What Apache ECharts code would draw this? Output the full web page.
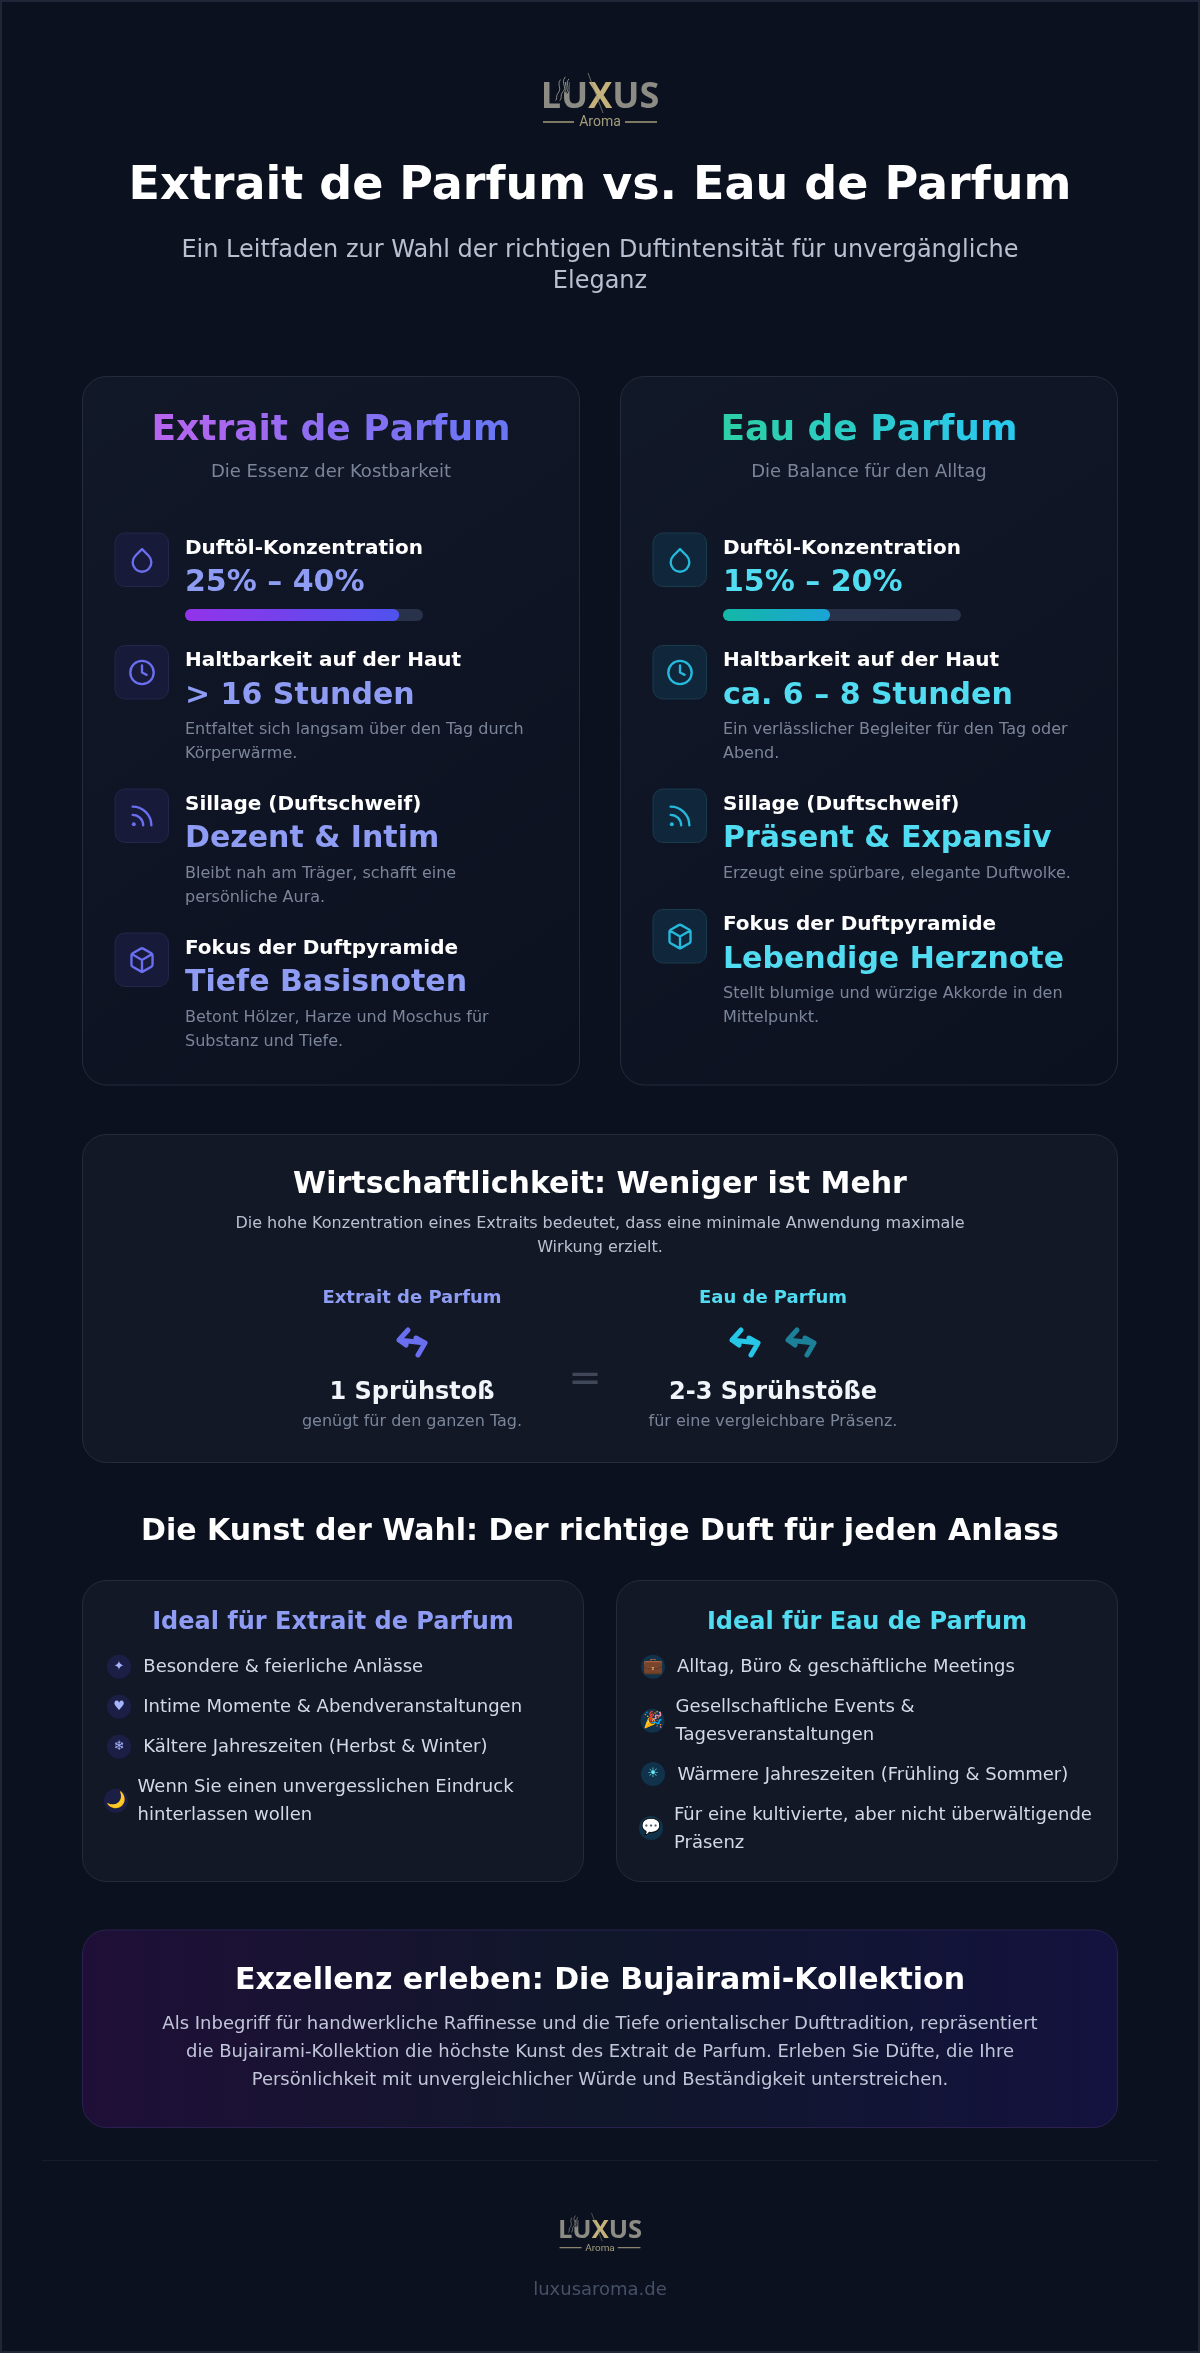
<!DOCTYPE html>
<html>
<head>
<meta charset="utf-8">
<title>Extrait de Parfum vs. Eau de Parfum</title>
<script src="https://cdn.jsdelivr.net/npm/echarts@6/dist/echarts.min.js"></script>
<style>
  html, body { margin: 0; padding: 0; background: #0b111e; }
  #main { width: 1200px; height: 2353px; }
</style>
</head>
<body>
<div id="main"></div>
<script>
// bar values (percent of the track that is filled)
const concentrationCategory = ["Duftöl-Konzentration"];
const extraitFill = [90];
const eauFill = [45];

const pageTitle = "Extrait de Parfum vs. Eau de Parfum";
const pageSubtitle = ["Ein Leitfaden zur Wahl der richtigen Duftintensität für unvergängliche", "Eleganz"];

const extraitRows = [
  ["Duftöl-Konzentration", "25% – 40%", []],
  ["Haltbarkeit auf der Haut", "> 16 Stunden", ["Entfaltet sich langsam über den Tag durch", "Körperwärme."]],
  ["Sillage (Duftschweif)", "Dezent & Intim", ["Bleibt nah am Träger, schafft eine", "persönliche Aura."]],
  ["Fokus der Duftpyramide", "Tiefe Basisnoten", ["Betont Hölzer, Harze und Moschus für", "Substanz und Tiefe."]]
];
const eauRows = [
  ["Duftöl-Konzentration", "15% – 20%", []],
  ["Haltbarkeit auf der Haut", "ca. 6 – 8 Stunden", ["Ein verlässlicher Begleiter für den Tag oder", "Abend."]],
  ["Sillage (Duftschweif)", "Präsent & Expansiv", ["Erzeugt eine spürbare, elegante Duftwolke."]],
  ["Fokus der Duftpyramide", "Lebendige Herznote", ["Stellt blumige und würzige Akkorde in den", "Mittelpunkt."]]
];
const rowTopsExtrait = [533, 645.5, 789, 933];
const rowTopsEau = [533, 645.5, 789, 909.5];

const extraitIdeal = [
  ["✦", ["Besondere & feierliche Anlässe"]],
  ["♥", ["Intime Momente & Abendveranstaltungen"]],
  ["❄", ["Kältere Jahreszeiten (Herbst & Winter)"]],
  ["🌙", ["Wenn Sie einen unvergesslichen Eindruck", "hinterlassen wollen"]]
];
const eauIdeal = [
  ["💼", ["Alltag, Büro & geschäftliche Meetings"]],
  ["🎉", ["Gesellschaftliche Events &", "Tagesveranstaltungen"]],
  ["☀", ["Wärmere Jahreszeiten (Frühling & Sommer)"]],
  ["💬", ["Für eine kultivierte, aber nicht überwältigende", "Präsenz"]]
];
const ctaLines = [
  "Als Inbegriff für handwerkliche Raffinesse und die Tiefe orientalischer Dufttradition, repräsentiert",
  "die Bujairami-Kollektion die höchste Kunst des Extrait de Parfum. Erleben Sie Düfte, die Ihre",
  "Persönlichkeit mit unvergleichlicher Würde und Beständigkeit unterstreichen."
];

const FONT = '"DejaVu Sans"';
const LinearGradient = echarts.graphic.LinearGradient;
const hGrad = (a, b) => new LinearGradient(0, 0, 1, 0, [{ offset: 0, color: a }, { offset: 1, color: b }]);

// line icons
const iconPaths = {
  icoDrop: "M12 2.69l5.66 5.66a8 8 0 1 1-11.31 0z",
  icoClock: "M22 12a10 10 0 1 1-20 0a10 10 0 1 1 20 0zM12 6v6l4 2",
  icoRss: "M4 11a9 9 0 0 1 9 9M4 4a16 16 0 0 1 16 16",
  icoBox: "M21 16V8a2 2 0 0 0-1-1.73l-7-4a2 2 0 0 0-2 0l-7 4A2 2 0 0 0 3 8v8a2 2 0 0 0 1 1.73l7 4a2 2 0 0 0 2 0l7-4A2 2 0 0 0 21 16zM3.27 6.96L12 12.01l8.73-5.05M12 22.08V12",
  icoSpray: "M9 -12L0 -2L7 3M0 -2L26 1M19 13L26 1L17 -4",
  logoSmoke: "M22 -6C14 4 26 8 18 16C14 20 18 24 14 28M15 -2C9 6 18 10 11 18C8 22 11 25 8 28M27 -3C21 4 30 9 23 17"
};
for (const k in iconPaths) {
  echarts.graphic.registerShape(k, echarts.graphic.extendPath(iconPaths[k], {}));
}
const rowIcons = ["icoDrop", "icoClock", "icoRss", "icoBox"];

const els = [];
const TEXT_DY = 2.5;
function txt(x, y, text, font, fill, align) {
  els.push({
    type: "text", x: x, y: y + TEXT_DY,
    style: { text: text, font: font, fill: fill, textAlign: align || "left", textVerticalAlign: "middle" }
  });
}
// zrender text has no gradient fill, so each letter gets its own colour along the gradient
function gradientTxt(x, y, text, font, from, to) {
  const rich = {};
  let s = "";
  Array.from(text).forEach((ch, i, all) => {
    rich["c" + i] = { font: font, fill: echarts.color.lerp(i / (all.length - 1), [from, to]) };
    s += "{c" + i + "|" + ch + "}";
  });
  els.push({
    type: "text", x: x, y: y + TEXT_DY,
    style: { text: s, rich: rich, textAlign: "center", textVerticalAlign: "middle" }
  });
}
function card(x, y, w, h, r, fill, stroke) {
  els.push({
    type: "rect",
    shape: { x: x, y: y, width: w, height: h, r: r },
    style: { fill: fill, stroke: stroke, lineWidth: 1 }
  });
}
function icon(type, cx, cy, color) {
  const s = 1.17;
  els.push({
    type: type, x: cx - 12 * s, y: cy - 12 * s, scaleX: s, scaleY: s,
    style: { fill: null, stroke: color, lineWidth: 2, lineCap: "round", lineJoin: "round" }
  });
  if (type === "icoRss") {
    els.push({ type: "circle", shape: { cx: cx - 7 * s, cy: cy + 7 * s, r: 1.7 * s }, style: { fill: color } });
  }
}
function spray(cx, cy, color, opacity) {
  els.push({
    type: "icoSpray", x: cx - 13, y: cy, style: {
      fill: null, stroke: color, lineWidth: 5, lineCap: "round", lineJoin: "round", opacity: opacity
    }
  });
}
function logo(cx, top, s) {
  els.push({
    type: "group", x: cx, y: top, scaleX: s, scaleY: s,
    children: [
      { type: "text", x: 0, y: 14.5, style: {
          text: "{a|LU}{b|X}{a|US}", textAlign: "center", textVerticalAlign: "middle",
          rich: {
            a: { font: 'bold 36px "Open Sans"', fill: "#8c8c85" },
            b: { font: 'bold 36px "Open Sans"', fill: "#c4b27a" }
          }
      } },
      { type: "logoSmoke", x: -50, y: -2, scaleX: 0.7, scaleY: 0.7, style: { fill: null, stroke: "#0b111e", lineWidth: 3.5 } },
      { type: "logoSmoke", x: -50, y: -2, scaleX: 0.7, scaleY: 0.7, style: { fill: null, stroke: "#a0a097", lineWidth: 1.2 } },
      { type: "line", shape: { x1: -12, y1: -10, x2: 3, y2: 30 }, style: { stroke: "#8c8c85", lineWidth: 0.7 } },
      { type: "line", shape: { x1: -57, y1: 39, x2: -26, y2: 39 }, style: { stroke: "#a49d7c", lineWidth: 1.5 } },
      { type: "line", shape: { x1: 25, y1: 39, x2: 57, y2: 39 }, style: { stroke: "#a49d7c", lineWidth: 1.5 } },
      { type: "text", x: 0, y: 39.5, style: { text: "Aroma", font: '14px Roboto', fill: "#a49d7c", textAlign: "center", textVerticalAlign: "middle" } }
    ]
  });
}

// page frame
els.push({
  type: "rect", shape: { x: 1, y: 1, width: 1198, height: 2351 },
  style: { fill: "#0b111e", stroke: "#1e2638", lineWidth: 2 }
});

// header
logo(600, 83, 1);
txt(600, 185, pageTitle, `bold 46px ${FONT}`, "#ffffff", "center");
txt(600, 248, pageSubtitle[0], `24px ${FONT}`, "#b8c0d2", "center");
txt(600, 279, pageSubtitle[1], `24px ${FONT}`, "#b8c0d2", "center");

// comparison cards
function compareCard(x, w, title, from, to, sub, rows, tops, accent, iconColor, boxFill, boxStroke) {
  card(x, 376.5, w, 708.5, 24,
    new LinearGradient(0, 0, 1, 1, [{ offset: 0, color: "#111827" }, { offset: 1, color: "#0c1120" }]),
    "#232b3d");
  const cx = x + w / 2;
  gradientTxt(cx, 428.5, title, `bold 36px ${FONT}`, from, to);
  txt(cx, 470, sub, `18px ${FONT}`, "#7b8599", "center");
  const ix = x + 32.5, tx = x + 102.5;
  rows.forEach((r, i) => {
    const top = tops[i];
    card(ix, top, 53.5, 53.5, 10, boxFill, boxStroke);
    icon(rowIcons[i], ix + 27, top + 27, iconColor);
    txt(tx, top + 13, r[0], `bold 20px ${FONT}`, "#ffffff");
    txt(tx, top + 48, r[1], `bold 30px ${FONT}`, accent);
    r[2].forEach((line, j) => txt(tx, top + 82 + j * 24, line, `16px ${FONT}`, "#7b8599"));
  });
}
compareCard(82.5, 497, "Extrait de Parfum", "#b565ee", "#6b76f5", "Die Essenz der Kostbarkeit",
  extraitRows, rowTopsExtrait, "#8e9cf4", "#6a6ff0", "#171a38", "#23274a");
compareCard(620.5, 497, "Eau de Parfum", "#2dcfa8", "#2bc8ee", "Die Balance für den Alltag",
  eauRows, rowTopsEau, "#52dcf2", "#25b9dc", "#10263a", "#1a3a4e");

// economy card
card(82.5, 1134.5, 1035, 328, 24, "#121826", "#232b3d");
txt(600, 1183, "Wirtschaftlichkeit: Weniger ist Mehr", `bold 30px ${FONT}`, "#ffffff", "center");
txt(600, 1221, "Die hohe Konzentration eines Extraits bedeutet, dass eine minimale Anwendung maximale", `16px ${FONT}`, "#b8c0d2", "center");
txt(600, 1245, "Wirkung erzielt.", `16px ${FONT}`, "#b8c0d2", "center");
txt(412, 1296, "Extrait de Parfum", `bold 18px ${FONT}`, "#8e9cf4", "center");
txt(773, 1296, "Eau de Parfum", `bold 18px ${FONT}`, "#52dcf2", "center");
spray(412, 1342, "#6a6ff0", 1);
spray(745, 1342, "#25c6e6", 1);
spray(801, 1342, "#25c6e6", 0.6);
txt(412, 1390, "1 Sprühstoß", `bold 24px ${FONT}`, "#f1f5f9", "center");
txt(773, 1390, "2-3 Sprühstöße", `bold 24px ${FONT}`, "#f1f5f9", "center");
txt(412, 1419, "genügt für den ganzen Tag.", `16px ${FONT}`, "#7b8599", "center");
txt(773, 1419, "für eine vergleichbare Präsenz.", `16px ${FONT}`, "#7b8599", "center");
txt(585, 1378, "=", `40px ${FONT}`, "#3f4759", "center");

// occasions
txt(600, 1530, "Die Kunst der Wahl: Der richtige Duft für jeden Anlass", `bold 30px ${FONT}`, "#ffffff", "center");
function idealCard(x, w, title, color, rows, rowLayout, badge, glyph) {
  card(x, 1580.5, w, 301, 24, "#121826", "#232b3d");
  txt(x + w / 2, 1620, title, `bold 24px ${FONT}`, color, "center");
  rows.forEach((r, i) => {
    const p = rowLayout[i];
    els.push({ type: "circle", shape: { cx: p[0], cy: p[1], r: 12 }, style: { fill: badge } });
    txt(p[0], p[1] - 2.5, r[0], `${r[0].length > 1 ? 16 : 13}px ${FONT}`, glyph, "center");
    r[1].forEach((line, j) => txt(p[2], p[3] + j * 28, line, `18px ${FONT}`, "#d3dae6"));
  });
}
idealCard(82.5, 501, "Ideal für Extrait de Parfum", "#8e9cf4", extraitIdeal, [
  [119, 1666.7, 143.3, 1664.7],
  [119, 1706.7, 143.3, 1704.7],
  [119, 1746.7, 143.3, 1744.7],
  [116, 1800.7, 137.6, 1784.7]
], "#1c1f45", "#a5b4fc");
idealCard(616.5, 501, "Ideal für Eau de Parfum", "#52dcf2", eauIdeal, [
  [653, 1666.7, 677, 1664.7],
  [652.5, 1720.7, 675.5, 1704.7],
  [653, 1774, 677.5, 1772.7],
  [651, 1828, 674, 1812.7]
], "#10324a", "#67e8f9");

// call to action
card(82.5, 1930, 1035, 197.5, 24,
  new LinearGradient(0, 0, 1, 0, [
    { offset: 0, color: "#1f0f38" }, { offset: 0.5, color: "#10172a" }, { offset: 1, color: "#14123f" }
  ]), "#2b2150");
txt(600, 1979, "Exzellenz erleben: Die Bujairami-Kollektion", `bold 30px ${FONT}`, "#ffffff", "center");
ctaLines.forEach((l, i) => txt(600, 2022 + i * 28, l, `18px ${FONT}`, "#c0c6d8", "center"));

// footer
els.push({ type: "line", shape: { x1: 42, y1: 2160.5, x2: 1158, y2: 2160.5 }, style: { stroke: "#161e2d", lineWidth: 1 } });
logo(600, 2220, 0.71);
txt(600, 2288, "luxusaroma.de", `18px ${FONT}`, "#465066", "center");

function barSeries(idx, data, grad) {
  return {
    type: "bar", xAxisIndex: idx, yAxisIndex: idx, data: data, barWidth: 12, z: 5,
    showBackground: true,
    backgroundStyle: { color: "#28324a", borderRadius: 6 },
    itemStyle: { color: grad, borderRadius: 6 },
    silent: true
  };
}

const chart = echarts.init(document.getElementById("main"), null, { width: 1200, height: 2353 });
chart.setOption({
  animation: false,
  backgroundColor: "#0b111e",
  graphic: { elements: els },
  grid: [
    { left: 185, top: 609, width: 238, height: 12 },
    { left: 723, top: 609, width: 238, height: 12 }
  ],
  xAxis: [
    { type: "value", gridIndex: 0, min: 0, max: 100, show: false },
    { type: "value", gridIndex: 1, min: 0, max: 100, show: false }
  ],
  yAxis: [
    { type: "category", gridIndex: 0, data: concentrationCategory, show: false },
    { type: "category", gridIndex: 1, data: concentrationCategory, show: false }
  ],
  series: [
    barSeries(0, extraitFill, hGrad("#9333ea", "#4f52ee")),
    barSeries(1, eauFill, hGrad("#14b8a6", "#1aa4d6"))
  ]
});
</script>
</body>
</html>
